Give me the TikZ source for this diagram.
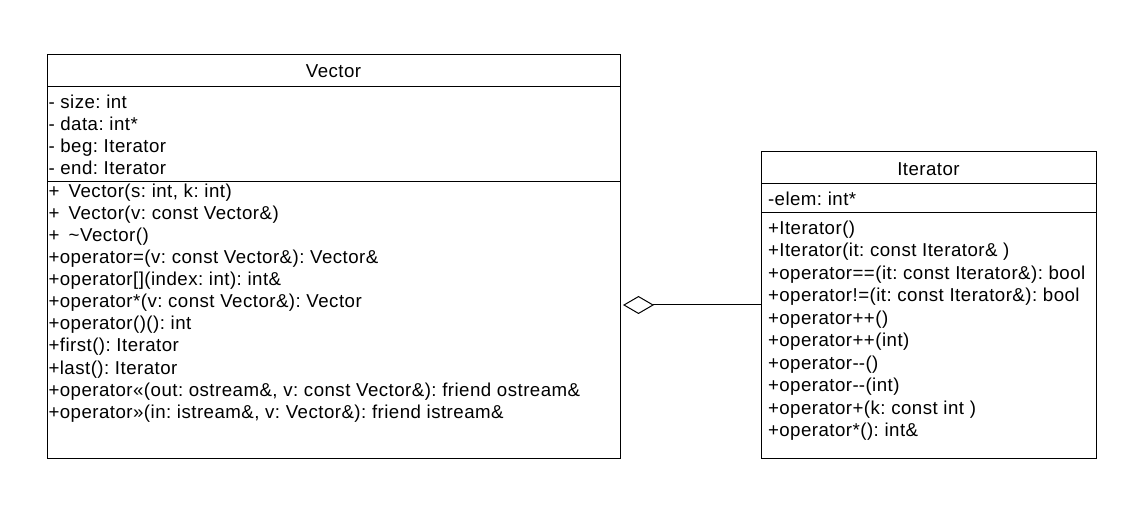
\documentclass[tikz,border=0pt]{standalone}
\usepackage{fontspec}
\setmainfont{Liberation Sans}[LetterSpace=2.5]
\usetikzlibrary{arrows.meta}
\begin{document}
\frenchspacing
\begin{tikzpicture}[x=1pt,y=-1pt,line width=1pt,
  umltext/.style={anchor=base west,inner sep=0pt,font=\fontsize{18.67}{22}\selectfont},
  umltitle/.style={anchor=base,inner sep=0pt,font=\fontsize{18.67}{22}\selectfont},
  classbox/.style={draw,anchor=north west,inner sep=0pt,line width=1pt}]
\useasboundingbox[fill=white] (0,0) rectangle (1130,529);
% Vector class
\node[classbox,minimum width=573pt,minimum height=404pt] (vec) at (47,54) {};
\draw (vec.west |- 0,86.5) -- (vec.east |- 0,86.5);
\draw (vec.west |- 0,182) -- (vec.east |- 0,182);
\node[umltitle] (vtitle) at (333.5,77.5) {Vector};
\foreach \t [count=\i] in {{- size: int},{- data: int*},{- beg: Iterator},{- end: Iterator}}
  \node[umltext] (va\i) at (48,{108.3+22*(\i-1)}) {\t};
\foreach \t [count=\i] in {
  {+\hspace{0.5em}Vector(s: int, k: int)},
  {+\hspace{0.5em}Vector(v: const Vector\&)},
  {+\hspace{0.5em}\textasciitilde Vector()},
  {+operator=(v: const Vector\&): Vector\&},
  {+operator[](index: int): int\&},
  {+operator*(v: const Vector\&): Vector},
  {+operator()(): int},
  {+first(): Iterator},
  {+last(): Iterator},
  {+operator«(out: ostream\&, v: const Vector\&): friend ostream\&},
  {+operator»(in: istream\&, v: Vector\&): friend istream\&}}
  \node[umltext] (vm\i) at (48,{198+22*(\i-1)}) {\t};
% Iterator class
\node[classbox,minimum width=335pt,minimum height=307pt] (it) at (761,151) {};
\draw (it.west |- 0,184) -- (it.east |- 0,184);
\draw (it.west |- 0,213) -- (it.east |- 0,213);
\node[umltitle] (ititle) at (928.5,175.7) {Iterator};
\node[umltext] (ia1) at (767.5,205.7) {-elem: int*};
\foreach \t [count=\i] in {
  {+Iterator()},
  {+Iterator(it: const Iterator\& )},
  {+operator==(it: const Iterator\&): bool},
  {+operator!=(it: const Iterator\&): bool},
  {+operator++()},
  {+operator++(int)},
  {+operator-\kern0pt-()},
  {+operator-\kern0pt-(int)},
  {+operator+(k: const int )},
  {+operator*(): int\&}}
  \node[umltext] (im\i) at (767.5,{234.3+22.5*(\i-1)}) {\t};
% aggregation
\coordinate (aggv) at (vec.east |- 0,305);
\coordinate (aggi) at (it.west |- 0,305);
\draw[{Diamond[open,length=31pt,width=18pt]}-,shorten <=2pt] (aggv) -- (aggi);
\end{tikzpicture}
\end{document}
